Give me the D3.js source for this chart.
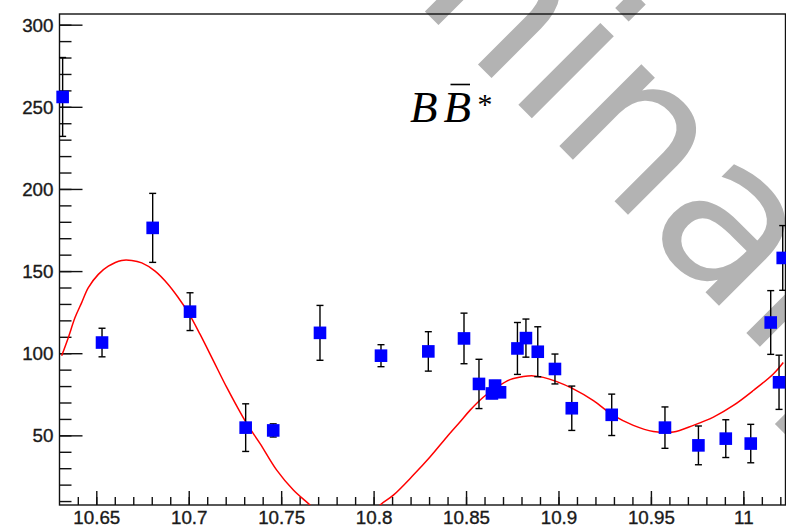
<!DOCTYPE html>
<html>
<head>
<meta charset="utf-8">
<script src="https://cdn.jsdelivr.net/npm/d3@7"></script>
<style>
  body { margin: 0; background: #fff; }
  svg { display: block; }
</style>
</head>
<body>
<script>
// measured points (mass in GeV, yield with stat error)
var massX = [10.6318, 10.6531, 10.6805, 10.7007, 10.7308, 10.7457, 10.771, 10.804, 10.8296,
             10.8489, 10.857, 10.864, 10.8657, 10.8684, 10.8778, 10.8824, 10.8888, 10.8981,
             10.9072, 10.9288, 10.9576, 10.9757, 10.9905, 11.004, 11.0148, 11.0193, 11.0213];
var yieldVal = [256, 106.5, 176.3, 125.3, 54.7, 53, 112.4, 98.5, 101.1,
                109, 81.3, 75.5, 80.3, 76.2, 102.9, 109.2, 100.9, 90.4,
                66.5, 62.5, 54.7, 43.9, 48, 45, 118.7, 82.3, 158];
var yieldErr = [24, 8.7, 21, 11.5, 14.5, 4, 16.7, 6.7, 12,
                15.4, 15, 3, 3, 3, 15.8, 11.6, 15.2, 9.1,
                13.5, 12.6, 12.6, 11.8, 11.5, 11.7, 19.4, 16.5, 19.7];

// fit curve
var fitX = [10.6313, 10.6349, 10.6385, 10.6421, 10.6457, 10.6511, 10.6565, 10.6637, 10.6692, 10.6746,
            10.6818, 10.6889, 10.6944, 10.6998, 10.7061, 10.7133, 10.7205, 10.7314, 10.7386, 10.7476,
            10.7566, 10.7656, 10.775, 10.785, 10.795, 10.8035, 10.8107, 10.8215, 10.8305, 10.8396,
            10.8467, 10.8521, 10.8593, 10.8666, 10.8738, 10.881, 10.8864, 10.8918, 10.8991, 10.908,
            10.9189, 10.9297, 10.9405, 10.9513, 10.9621, 10.973, 10.9838, 10.9946, 11.0054, 11.0162, 11.0216];
var fitY = [98.5, 109.6, 121.7, 130.8, 139.9, 148, 153, 156.5, 156.5, 155,
            150, 141.9, 133.8, 124.7, 111.6, 95.5, 79.3, 57.1, 45, 28.8,
            16.7, 7.6, -2, -6, -2, 7.6, 13.6, 25.8, 36.8, 49,
            58.1, 65.2, 73.2, 79.3, 83.9, 85.8, 86.2, 85.3, 82.7, 78.3,
            71.2, 62.1, 56.1, 52.4, 52, 56.1, 61.1, 68.2, 77.3, 87.4, 94.4];

var xTicks = [10.65, 10.7, 10.75, 10.8, 10.85, 10.9, 10.95, 11];
var xTickLabels = ["10.65", "10.7", "10.75", "10.8", "10.85", "10.9", "10.95", "11"];
var yTicks = [50, 100, 150, 200, 250, 300];
var yTickLabels = ["50", "100", "150", "200", "250", "300"];
var xMinor = d3.range(10.64, 11.025, 0.01);
var yMinor = d3.range(10, 301, 10);

var w = 786, h = 530;
var padL = 59.5, padR = 785.5, padT = 14, padB = 505;

var svg = d3.select("body").append("svg")
    .attr("width", w)
    .attr("height", h);

var x = d3.scaleLinear().domain([10.6301, 11.0228]).range([padL, padR]);
var y = d3.scaleLinear().domain([7.6, 306.5]).range([padB, padT]);

// watermark
var wm = svg.append("g");
var wmText = wm.append("text")
    .attr("x", 0).attr("y", 0)
    .attr("font-family", "DejaVu Sans")
    .attr("font-size", 212)
    .attr("fill", "#b3b3b3")
    .text("Preliminary");
var sx = wmText.node().getStartPositionOfChar(6).x;
wm.attr("transform", "translate(525,111.7) rotate(45) translate(" + (-(sx + 0.139 * 212)) + ",0)");

svg.append("clipPath").attr("id", "frame")
  .append("rect")
    .attr("x", padL).attr("y", padT)
    .attr("width", padR - padL).attr("height", padB - padT);

// axes
var xMajor = d3.axisBottom(x).tickValues(xTicks).tickSizeInner(-14).tickSizeOuter(0)
    .tickFormat(function(d, i){ return xTickLabels[i]; });
var xMin = d3.axisBottom(x).tickValues(xMinor).tickSizeInner(-8).tickSizeOuter(0).tickFormat("");
var yMajor = d3.axisLeft(y).tickValues(yTicks).tickSizeInner(-23).tickSizeOuter(0)
    .tickFormat(function(d, i){ return yTickLabels[i]; });
var yMin = d3.axisLeft(y).tickValues(yMinor).tickSizeInner(-12).tickSizeOuter(0).tickFormat("");

var gx = svg.append("g").attr("transform", "translate(0," + padB + ")");
gx.append("g").call(xMin);
gx.append("g").call(xMajor);
var gy = svg.append("g").attr("transform", "translate(" + padL + ",0)");
gy.append("g").call(yMin);
gy.append("g").call(yMajor);

svg.selectAll(".domain").remove();
svg.selectAll(".tick line").attr("stroke", "#111").attr("stroke-width", 1.4);
svg.selectAll(".tick text")
    .attr("font-family", "Liberation Sans, Arial, sans-serif")
    .attr("font-size", 18.8)
    .attr("fill", "#1a1a1a")
    .attr("stroke", "#1a1a1a")
    .attr("stroke-width", 0.35);
gx.selectAll(".tick text").attr("y", 18.5).attr("dy", null);
gy.selectAll(".tick text").attr("x", -6).attr("dy", "0.35em");

// frame
svg.append("rect")
    .attr("x", padL).attr("y", padT)
    .attr("width", padR - padL).attr("height", padB - padT)
    .attr("fill", "none")
    .attr("stroke", "#111")
    .attr("stroke-width", 1.4);

// fit curve
var fitPts = fitX.map(function(d, i){ return [d, fitY[i]]; });
svg.append("path")
    .datum(fitPts)
    .attr("clip-path", "url(#frame)")
    .attr("fill", "none")
    .attr("stroke", "#ff0000")
    .attr("stroke-width", 1.5)
    .attr("d", d3.line()
        .x(function(d){ return x(d[0]); })
        .y(function(d){ return y(d[1]); })
        .curve(d3.curveCatmullRom));

// error bars
var pts = massX.map(function(d, i){ return {m: d, v: yieldVal[i], e: yieldErr[i]}; });
var eb = svg.append("g").attr("stroke", "#000").attr("stroke-width", 1.4);
eb.selectAll("line.bar").data(pts).enter().append("line")
    .attr("x1", function(d){ return x(d.m); })
    .attr("x2", function(d){ return x(d.m); })
    .attr("y1", function(d){ return y(d.v + d.e); })
    .attr("y2", function(d){ return y(d.v - d.e); });
eb.selectAll("line.capT").data(pts).enter().append("line")
    .attr("x1", function(d){ return x(d.m) - 3.5; })
    .attr("x2", function(d){ return x(d.m) + 3.5; })
    .attr("y1", function(d){ return y(d.v + d.e); })
    .attr("y2", function(d){ return y(d.v + d.e); });
eb.selectAll("line.capB").data(pts).enter().append("line")
    .attr("x1", function(d){ return x(d.m) - 3.5; })
    .attr("x2", function(d){ return x(d.m) + 3.5; })
    .attr("y1", function(d){ return y(d.v - d.e); })
    .attr("y2", function(d){ return y(d.v - d.e); });

// markers
svg.selectAll("rect.pt").data(pts).enter().append("rect")
    .attr("x", function(d){ return x(d.m) - 6.3; })
    .attr("y", function(d){ return y(d.v) - 6.3; })
    .attr("width", 12.6)
    .attr("height", 12.6)
    .attr("fill", "#0000ff");

// channel label
var lab = svg.append("text")
    .attr("x", 410)
    .attr("y", 122)
    .attr("font-family", "Liberation Serif, serif")
    .attr("font-style", "italic")
    .attr("font-size", 45)
    .attr("fill", "#000");
lab.append("tspan").text("B");
lab.append("tspan").attr("dx", 6).text("B");
lab.append("tspan").attr("dx", 5).attr("font-size", 30).attr("dy", -8).text("*");
// bar over the second B
var bx = lab.node().getExtentOfChar(1);
svg.append("line")
    .attr("x1", bx.x + 7).attr("x2", bx.x + bx.width - 1)
    .attr("y1", 84.5).attr("y2", 84.5)
    .attr("stroke", "#000").attr("stroke-width", 1.6);
</script>
</body>
</html>
